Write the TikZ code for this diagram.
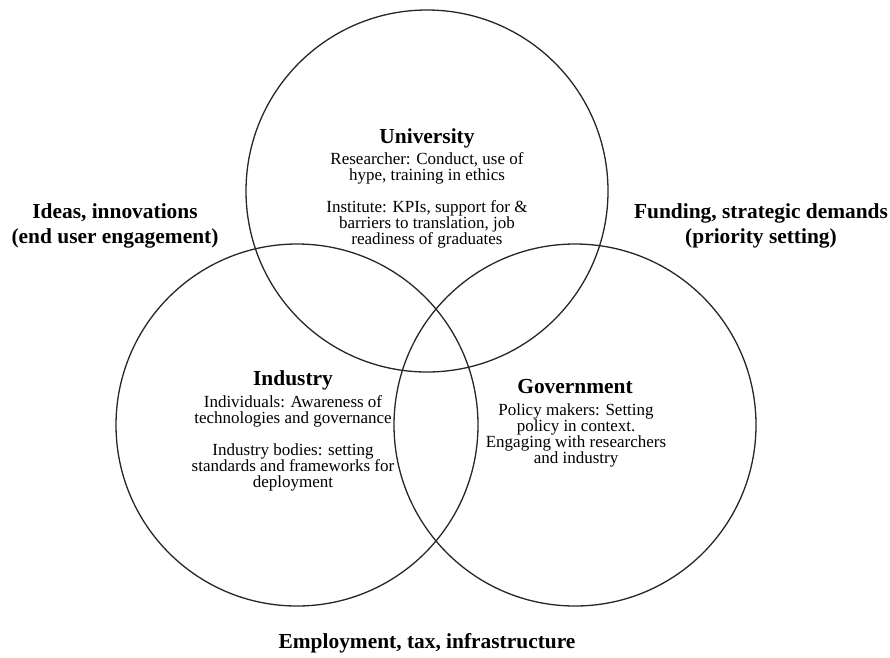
\documentclass[tikz,border=0pt]{standalone}
\usepackage{fontspec}
\setmainfont{Liberation Serif}
\usetikzlibrary{positioning}

\tikzset{
  ring/.style={circle, draw=black!85, line width=1.3pt, minimum size=362pt, inner sep=0pt},
  heading/.style={font=\fontsize{21.4}{24}\selectfont\bfseries, inner sep=0pt, align=center},
  bodytext/.style={font=\fontsize{17}{16}\selectfont, inner sep=0pt, align=center},
  flowlabel/.style={font=\fontsize{21.4}{24.5}\selectfont\bfseries, inner sep=0pt, align=center}
}

\begin{document}
\begin{tikzpicture}[x=1pt, y=-1pt]
    \useasboundingbox (0,0) rectangle (890,657);

    % the three sectors
    \node[ring] (uni) at (427,191) {};
    \node[ring] (ind) at (297,425) {};
    \node[ring] (gov) at (575,425) {};

    % University (base = last line)
    \node[heading, anchor=base] (unititle) at (427,143) {University};
    \node[bodytext, anchor=base] (unitext) at (427,244) {
        Researcher: Conduct, use of\\
        hype, training in ethics\\[16pt]
        Institute: KPIs, support for \&\\
        barriers to translation, job\\
        readiness of graduates
    };

    % Industry
    \node[heading, anchor=base] (indtitle) at (293,385) {Industry};
    \node[bodytext, anchor=base] (indtext) at (293,487) {
        Individuals: Awareness of\\
        technologies and governance\\[16pt]
        Industry bodies: setting\\
        standards and frameworks for\\
        deployment
    };

    % Government
    \node[heading, anchor=base] (govtitle) at (575,393) {Government};
    \node[bodytext, anchor=base] (govtext) at (576,463) {
        Policy makers: Setting\\
        policy in context.\\
        Engaging with researchers\\
        and industry
    };

    % flows between the sectors
    \node[flowlabel, anchor=base] (ideas) at (115,243) {Ideas, innovations\\(end user engagement)};
    \node[flowlabel, anchor=base] (funding) at (761,243) {Funding, strategic demands\\(priority setting)};
    \node[flowlabel, anchor=base] (employ) at (427,648) {Employment, tax, infrastructure};
\end{tikzpicture}
\end{document}
